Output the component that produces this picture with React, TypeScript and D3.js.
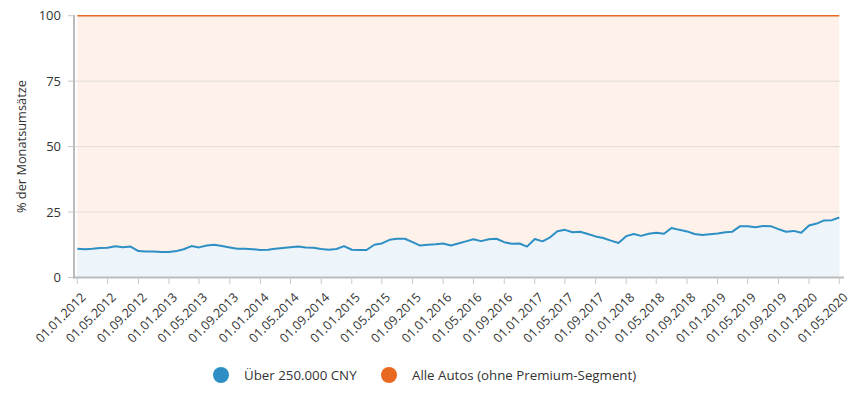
import React from "react";
import * as d3 from "d3";

// Anteil Fahrzeuge über 250.000 CNY an den Monatsumsätzen, Jan 2012 - Mai 2020
const premiumShare = [
  11.0, 10.8, 11.0, 11.3, 11.4, 11.9, 11.6, 11.8, 10.1, 9.9,
  9.9, 9.7, 9.7, 10.1, 10.8, 12.0, 11.5, 12.2, 12.5, 12.0,
  11.5, 11.0, 11.0, 10.8, 10.5, 10.6, 11.0, 11.3, 11.6, 11.8,
  11.5, 11.4, 10.9, 10.6, 10.9, 12.0, 10.6, 10.5, 10.5, 12.5,
  13.0, 14.4, 14.8, 14.8, 13.5, 12.2, 12.5, 12.7, 13.0, 12.2,
  13.0, 13.8, 14.6, 13.9, 14.6, 14.8, 13.5, 12.9, 13.0, 11.8,
  14.7, 13.8, 15.2, 17.7, 18.2, 17.3, 17.5, 16.6, 15.7, 15.1,
  14.1, 13.2, 15.8, 16.6, 15.9, 16.7, 17.1, 16.7, 18.9, 18.2,
  17.6, 16.6, 16.2, 16.5, 16.8, 17.3, 17.5, 19.6, 19.6, 19.2,
  19.7, 19.6, 18.5, 17.5, 17.8, 17.1, 19.9, 20.6, 21.8, 21.9,
  22.9,
];

// Referenzreihe: alle Autos = 100 %
const allCarsShare = [
  100, 100, 100, 100, 100, 100, 100, 100, 100, 100,
  100, 100, 100, 100, 100, 100, 100, 100, 100, 100,
  100, 100, 100, 100, 100, 100, 100, 100, 100, 100,
  100, 100, 100, 100, 100, 100, 100, 100, 100, 100,
  100, 100, 100, 100, 100, 100, 100, 100, 100, 100,
  100, 100, 100, 100, 100, 100, 100, 100, 100, 100,
  100, 100, 100, 100, 100, 100, 100, 100, 100, 100,
  100, 100, 100, 100, 100, 100, 100, 100, 100, 100,
  100, 100, 100, 100, 100, 100, 100, 100, 100, 100,
  100, 100, 100, 100, 100, 100, 100, 100, 100, 100,
  100,
];

const seriesNames = ["Über 250.000 CNY", "Alle Autos (ohne Premium-Segment)"];
const seriesColors = ["#2e8fc4", "#e8691f"];
const yTicks = [0, 25, 50, 75, 100];
const yLabel = "% der Monatsumsätze";

const months = d3.utcMonth.range(
  new Date(Date.UTC(2012, 0, 1)),
  new Date(Date.UTC(2020, 5, 1))
);
const fmt = d3.utcFormat("%d.%m.%Y");
const xTicks = months.filter((_, i) => i % 4 === 0);

const W = 858;
const H = 393;
const font = "'Open Sans', 'DejaVu Sans', sans-serif";

export default function App() {
  const x = d3
    .scaleUtc()
    .domain([months[0], months[months.length - 1]])
    .range([77.3, 839.3]);
  const y = d3.scaleLinear().domain([0, 100]).range([277.5, 15.7]);

  const area = (vals: number[]) =>
    d3
      .area<number>()
      .x((_, i) => x(months[i]))
      .y0(y(0))
      .y1((d) => y(d))(vals) || "";
  const line = (vals: number[]) =>
    d3
      .line<number>()
      .x((_, i) => x(months[i]))
      .y((d) => y(d))(vals) || "";

  return (
    <svg
      width={W}
      height={H}
      style={{ position: "absolute", left: 0, top: 0, display: "block", background: "#fff" }}
      fontFamily={font}
    >
      {/* Flächen */}
      <path d={area(allCarsShare)} fill="#fdf1ea" />
      <path d={area(premiumShare)} fill="#edf5fb" />

      {/* Gitterlinien */}
      {yTicks.slice(1, -1).map((t) => (
        <line key={t} x1={75} x2={840} y1={y(t)} y2={y(t)} stroke="#e0dcda" strokeWidth={1} />
      ))}

      {/* Linien */}
      <path d={line(allCarsShare)} fill="none" stroke={seriesColors[1]} strokeWidth={1.5} />
      <path d={line(premiumShare)} fill="none" stroke={seriesColors[0]} strokeWidth={2} strokeLinejoin="round" />

      {/* y-Achse */}
      <line x1={74} x2={74} y1={15} y2={278.5} stroke="#bcbcbc" strokeWidth={2} />
      {yTicks.map((t) => (
        <g key={t} transform={`translate(0, ${y(t)})`}>
          <line x1={68} x2={74} stroke="#c8c8c8" />
          <text x={61} dy="0.35em" textAnchor="end" fontSize={13} fill="#333">
            {t}
          </text>
        </g>
      ))}
      <text
        transform={`translate(22, ${(y(0) + y(100)) / 2}) rotate(-90)`}
        textAnchor="middle"
        dy="0.35em"
        fontSize={12.8}
        fill="#333"
      >
        {yLabel}
      </text>

      {/* x-Achse */}
      <line x1={73} x2={844} y1={277.5} y2={277.5} stroke="#bcbcbc" strokeWidth={2} />
      {xTicks.map((d) => (
        <g key={+d} transform={`translate(${x(d)}, 0)`}>
          <line y1={278.5} y2={284} stroke="#c8c8c8" />
          <text
            transform="translate(6, 295) rotate(-45)"
            textAnchor="end"
            dominantBaseline="central"
            fontSize={12.6}
            fill="#333"
          >
            {fmt(d)}
          </text>
        </g>
      ))}

      {/* Legende */}
      {seriesNames.map((name, i) => (
        <g key={name} transform={`translate(${i === 0 ? 221 : 389}, 375)`}>
          <circle r={8} fill={seriesColors[i]} />
          <text x={23} dy="0.35em" fontSize={13.3} fill="#333">
            {name}
          </text>
        </g>
      ))}
    </svg>
  );
}
